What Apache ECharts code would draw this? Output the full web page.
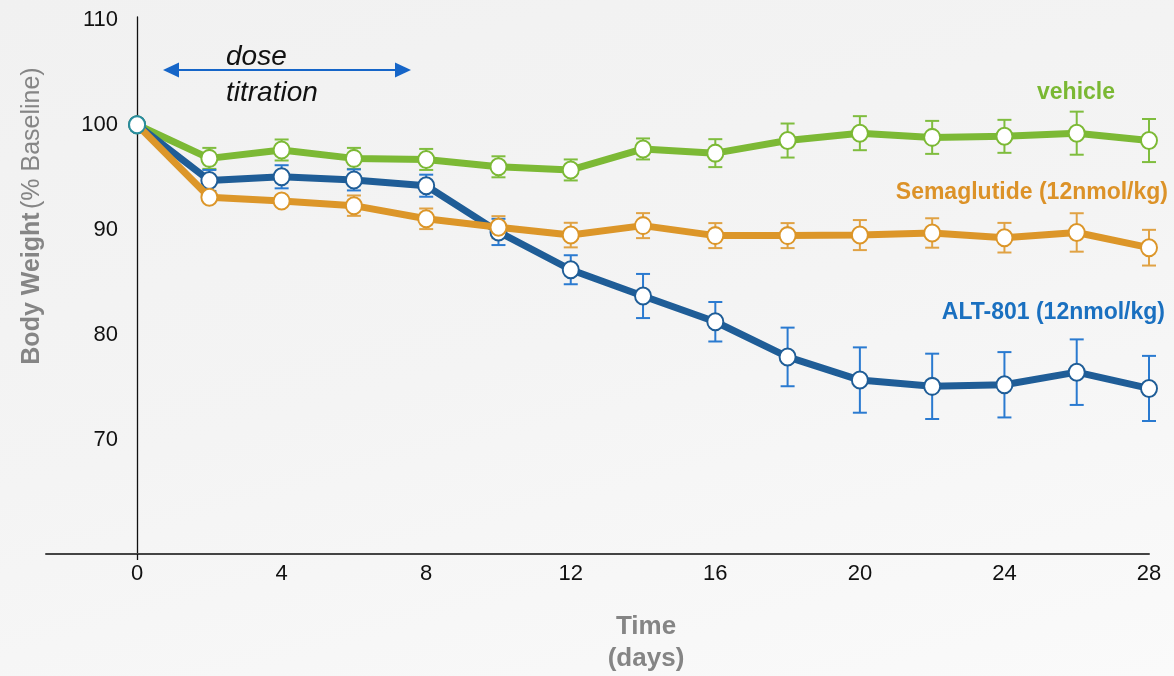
<!DOCTYPE html>
<html>
<head>
<meta charset="utf-8">
<script src="https://cdn.jsdelivr.net/npm/echarts@6/dist/echarts.min.js"></script>
<style>
html,body{margin:0;padding:0;}
body{width:1174px;height:676px;background:linear-gradient(165deg,#f1f1f1 0%,#f4f4f4 50%,#fafafa 100%);}
#chart{width:1174px;height:676px;}
</style>
</head>
<body>
<div id="chart"></div>
<script>
const days = [0, 2, 4, 6, 8, 10, 12, 14, 16, 18, 20, 22, 24, 26, 28];
const vehicleMean = [100, 96.8, 97.6, 96.8, 96.7, 96.0, 95.7, 97.7, 97.3, 98.5, 99.2, 98.8, 98.9, 99.2, 98.5];
const vehicleErr  = [0, 1.0, 1.0, 1.0, 1.0, 1.0, 1.0, 1.0, 1.33, 1.62, 1.62, 1.57, 1.57, 2.05, 2.05];
const altMean = [100, 94.7, 95.05, 94.75, 94.2, 89.8, 86.2, 83.7, 81.25, 77.9, 75.7, 75.1, 75.25, 76.45, 74.9];
const altErr  = [0, 1.0, 1.1, 1.0, 1.05, 1.25, 1.38, 2.1, 1.88, 2.79, 3.11, 3.11, 3.11, 3.12, 3.1];
const semaMean = [100, 93.1, 92.75, 92.3, 91.05, 90.25, 89.5, 90.4, 89.45, 89.45, 89.5, 89.7, 89.25, 89.75, 88.3];
const semaErr  = [0, 0.4, 0.4, 0.97, 0.98, 1.05, 1.17, 1.19, 1.19, 1.19, 1.43, 1.4, 1.41, 1.83, 1.7];
const yTicks = [70, 80, 90, 100, 110];
const xTicks = [0, 4, 8, 12, 16, 20, 24, 28];
const seriesNames = ['vehicle', 'Semaglutide (12nmol/kg)', 'ALT-801 (12nmol/kg)'];

const C = {
  vehicle: {line: '#7cb935', err: '#7fbd3e', text: '#7ab833'},
  sema: {line: '#dc9629', err: '#e0a244', text: '#dc9228'},
  alt: {line: '#1f5d97', err: '#2a7ad0', text: '#1a70c0'}
};
const FONT = 'Liberation Sans, Arial, sans-serif';

function pairs(m) { return days.map((d, i) => [d, m[i]]); }
function errData(m, e) { return days.map((d, i) => [d, m[i] - e[i], m[i] + e[i]]); }

function errSeries(m, e, color, z) {
  return {
    type: 'custom', z: z, silent: true,
    data: errData(m, e),
    renderItem: function (params, api) {
      const x = api.value(0);
      const lo = api.coord([x, api.value(1)]);
      const hi = api.coord([x, api.value(2)]);
      const hw = 7;
      const st = {stroke: color, lineWidth: 2, fill: 'none'};
      return {
        type: 'group',
        children: [
          {type: 'line', shape: {x1: lo[0], y1: lo[1], x2: hi[0], y2: hi[1]}, style: st},
          {type: 'line', shape: {x1: lo[0] - hw, y1: lo[1], x2: lo[0] + hw, y2: lo[1]}, style: st},
          {type: 'line', shape: {x1: hi[0] - hw, y1: hi[1], x2: hi[0] + hw, y2: hi[1]}, style: st}
        ]
      };
    }
  };
}

function lineSeries(name, m, c, z, firstBorder) {
  const data = pairs(m).map((p, i) => {
    if (i === 0 && firstBorder) return {value: p, itemStyle: {borderColor: firstBorder}};
    return p;
  });
  return {
    name: name, type: 'line', z: z, data: data,
    symbol: 'circle', symbolSize: [16, 17],
    lineStyle: {color: c.line, width: 7},
    itemStyle: {color: '#ffffff', borderColor: c.line, borderWidth: 2},
    emphasis: {disabled: true}, silent: true
  };
}

const chart = echarts.init(document.getElementById('chart'), null, {renderer: 'canvas'});
const gray = '#858585';
const GRID_LEFT = 46;
chart.setOption({
  backgroundColor: 'transparent',
  animation: false,
  grid: {left: GRID_LEFT, right: 25, top: 17, bottom: 122, containLabel: false, outerBoundsMode: 'none'},
  xAxis: {
    type: 'value', min: -2.52, max: 28,
    axisLine: {show: true, onZero: false, lineStyle: {color: '#444', width: 2}},
    axisTick: {show: true, customValues: [0], length: 6, lineStyle: {color: '#111', width: 1.3}},
    axisLabel: {customValues: xTicks, fontSize: 22, color: '#111', margin: 9, fontFamily: FONT},
    splitLine: {show: false}
  },
  yAxis: {
    type: 'value', min: 59.14, max: 110.26,
    axisLine: {show: true, onZero: false, lineStyle: {color: '#111', width: 1.3}},
    axisTick: {show: false},
    axisLabel: {customValues: yTicks, fontSize: 22, color: '#111', margin: 19, fontFamily: FONT},
    splitLine: {show: false}
  },
  series: [
    errSeries(vehicleMean, vehicleErr, C.vehicle.err, 2),
    errSeries(altMean, altErr, C.alt.err, 2),
    errSeries(semaMean, semaErr, C.sema.err, 2),
    lineSeries(seriesNames[0], vehicleMean, C.vehicle, 3),
    lineSeries(seriesNames[2], altMean, C.alt, 4),
    lineSeries(seriesNames[1], semaMean, C.sema, 5, '#2a8f9e')
  ],
  graphic: [
    {type: 'text', x: 32, y: 216, rotation: Math.PI / 2, z: 10,
      style: {text: '{b|Body Weight} {n|(% Baseline)}', align: 'center', verticalAlign: 'middle',
        rich: {b: {fontSize: 25, fontWeight: 'bold', fill: gray, fontFamily: FONT},
               n: {fontSize: 25, fill: gray, fontFamily: FONT}}}},
    {type: 'text', x: 646, y: 627, z: 10,
      style: {text: 'Time', align: 'center', verticalAlign: 'middle', fontSize: 26, fontWeight: 'bold', fill: gray, fontFamily: FONT}},
    {type: 'text', x: 646, y: 659, z: 10,
      style: {text: '(days)', align: 'center', verticalAlign: 'middle', fontSize: 26, fontWeight: 'bold', fill: gray, fontFamily: FONT}},
    {type: 'text', x: 1076, y: 93, z: 10,
      style: {text: seriesNames[0], align: 'center', verticalAlign: 'middle', fontSize: 23, fontWeight: 'bold', fill: C.vehicle.text, fontFamily: FONT}},
    {type: 'text', x: 1168, y: 193, z: 10,
      style: {text: seriesNames[1], align: 'right', verticalAlign: 'middle', fontSize: 23, fontWeight: 'bold', fill: C.sema.text, fontFamily: FONT}},
    {type: 'text', x: 1165, y: 313, z: 10,
      style: {text: seriesNames[2], align: 'right', verticalAlign: 'middle', fontSize: 23, fontWeight: 'bold', fill: C.alt.text, fontFamily: FONT}},
    {type: 'text', x: 226, y: 57, z: 10,
      style: {text: 'dose', align: 'left', verticalAlign: 'middle', fontSize: 28, fontStyle: 'italic', fill: '#111', fontFamily: FONT}},
    {type: 'text', x: 226, y: 93, z: 10,
      style: {text: 'titration', align: 'left', verticalAlign: 'middle', fontSize: 28, fontStyle: 'italic', fill: '#111', fontFamily: FONT}},
    {type: 'line', z: 10, shape: {x1: 175, y1: 70, x2: 399, y2: 70}, style: {stroke: '#1565c8', lineWidth: 2}},
    {type: 'polygon', z: 10, shape: {points: [[163, 70], [179, 62.5], [179, 77.5]]}, style: {fill: '#1565c8'}},
    {type: 'polygon', z: 10, shape: {points: [[411, 70], [395, 62.5], [395, 77.5]]}, style: {fill: '#1565c8'}}
  ]
});
// place the y axis (line + labels) at x = 0 of the value axis
const px0 = chart.convertToPixel({xAxisIndex: 0}, 0);
const gridRect = chart.getModel().getComponent('grid').coordinateSystem.getRect();
chart.setOption({yAxis: {offset: gridRect.x - px0}});
</script>
</body>
</html>
